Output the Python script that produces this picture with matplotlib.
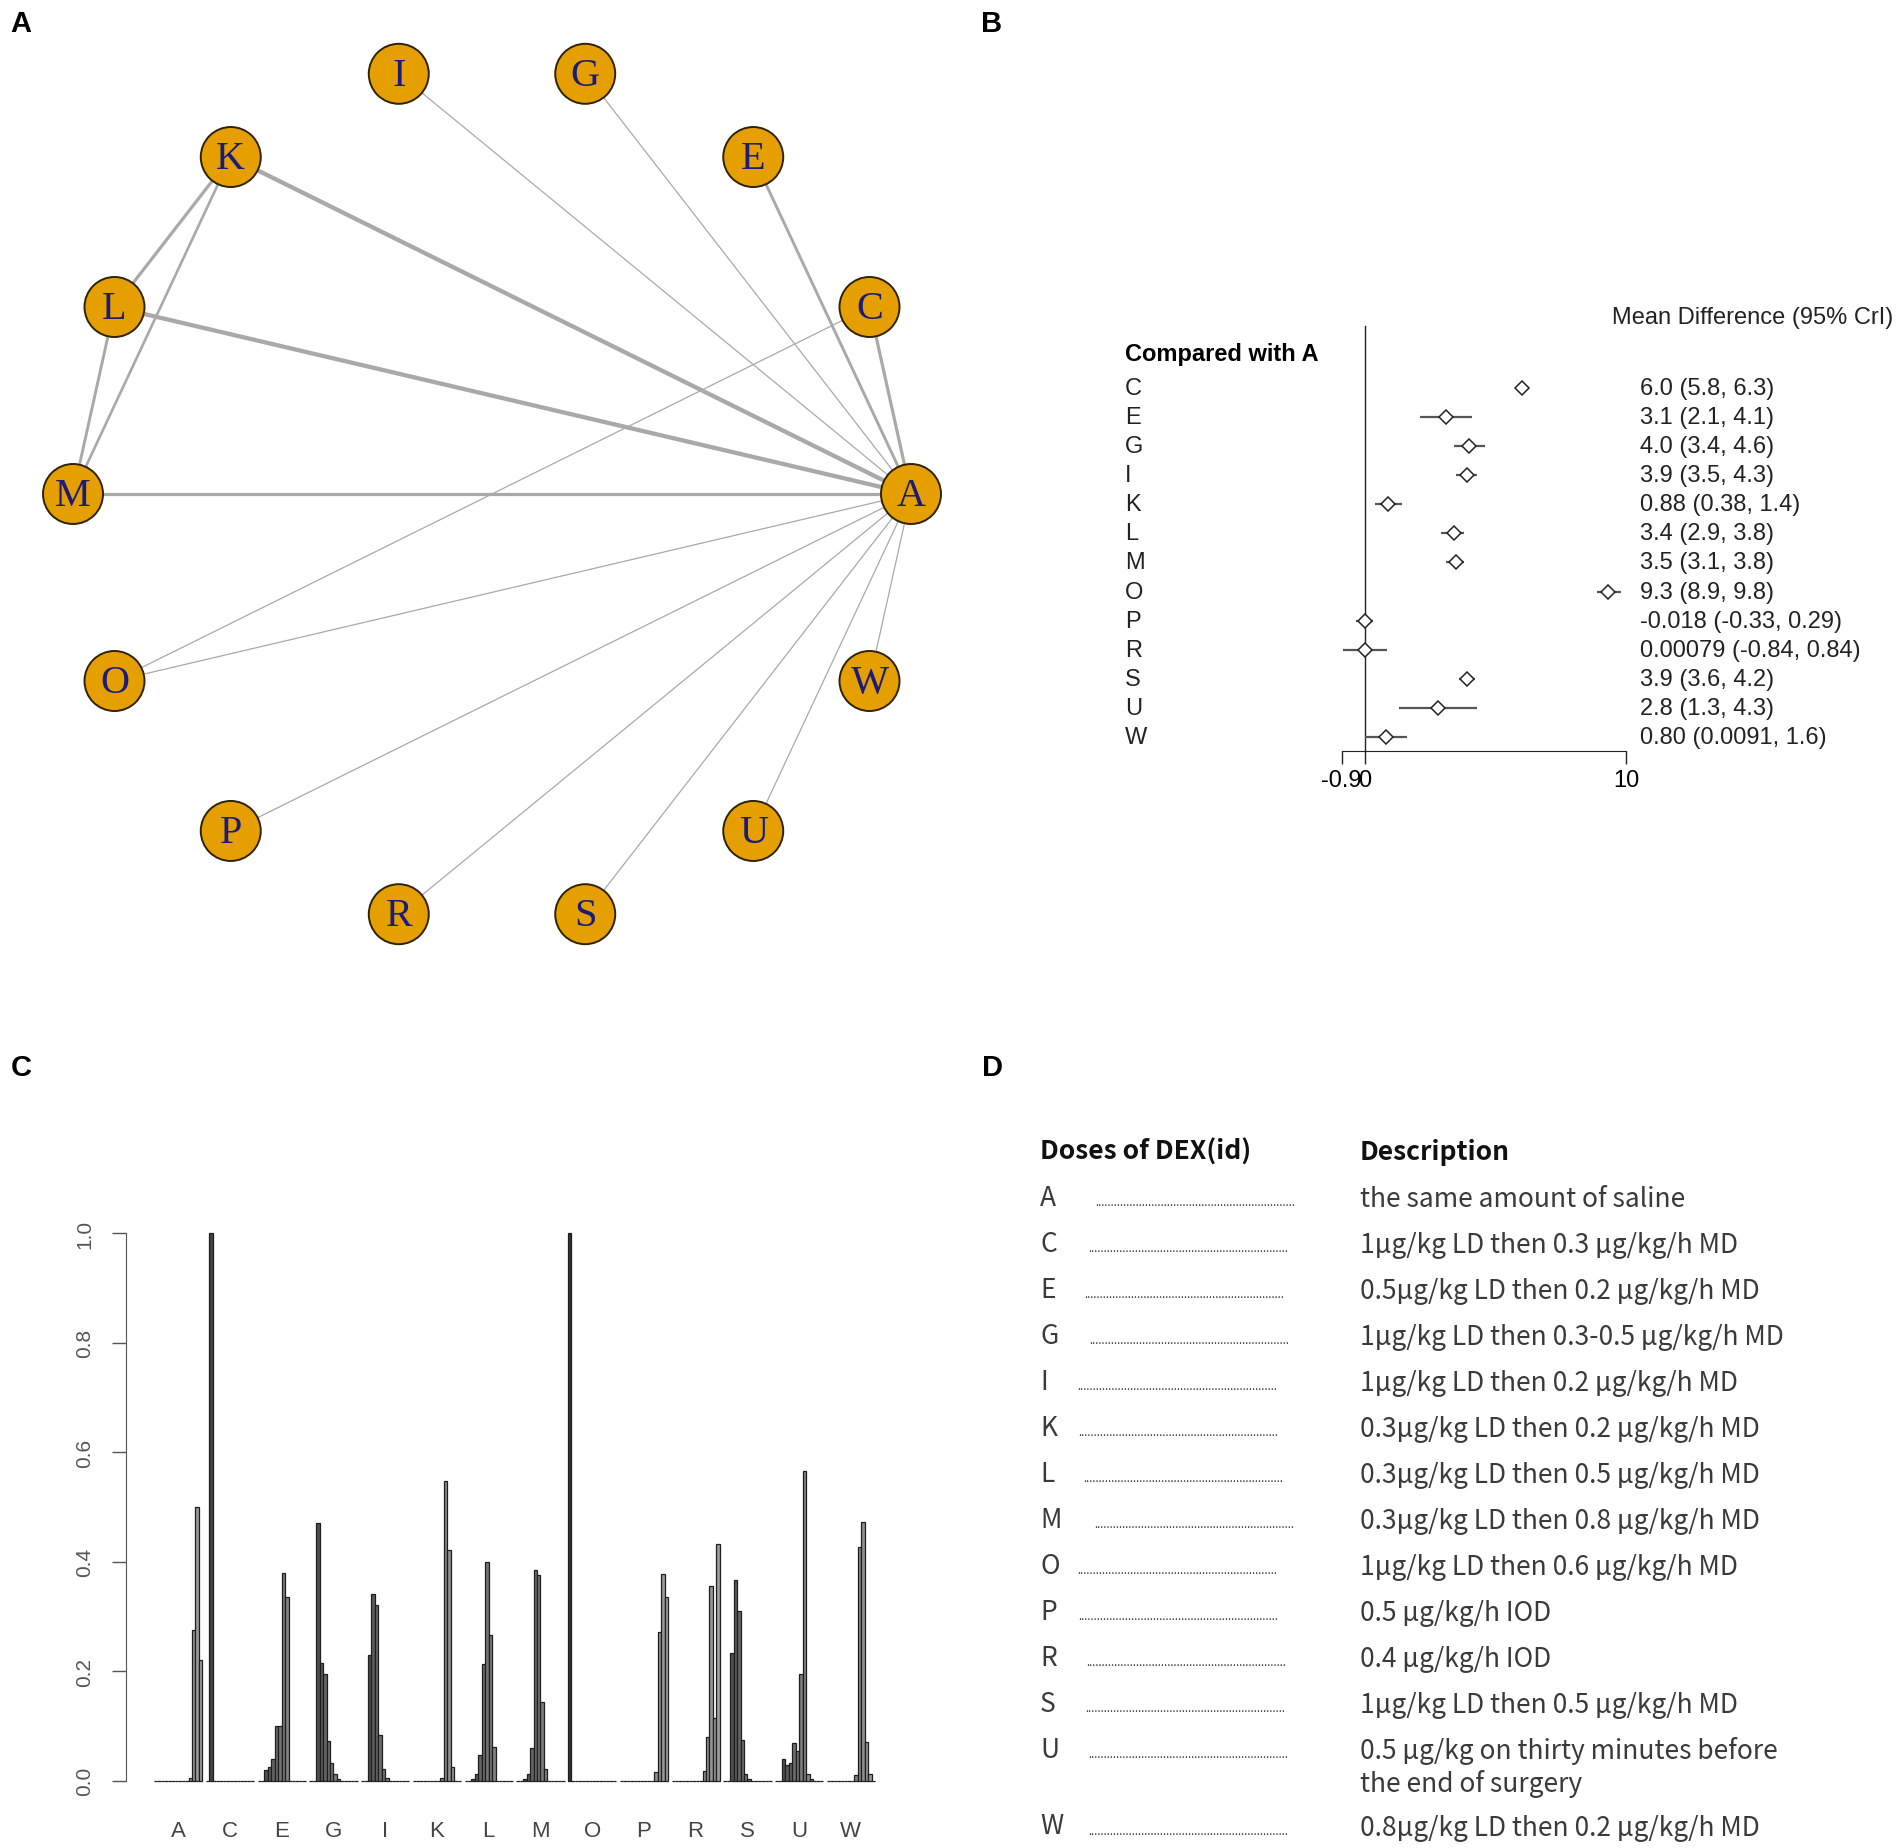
import numpy as np
import matplotlib
matplotlib.use('Agg')
import matplotlib.pyplot as plt
from matplotlib.patches import Ellipse

W_PX, H_PX = 1901, 1849

# ---- panel A: network ----
nodes = ['A', 'C', 'E', 'G', 'I', 'K', 'L', 'M', 'O', 'P', 'R', 'S', 'U', 'W']
edges = [('A', 'C'), ('A', 'E'), ('A', 'G'), ('A', 'I'), ('A', 'K'), ('A', 'L'),
         ('A', 'M'), ('A', 'O'), ('A', 'P'), ('A', 'R'), ('A', 'S'), ('A', 'U'),
         ('A', 'W'), ('C', 'O'), ('K', 'L'), ('K', 'M'), ('L', 'M')]
edge_weight = [2.3, 2.1, 0.9, 0.9, 3.1, 3.1, 2.3, 0.9, 0.9, 0.9, 0.9, 0.9,
               0.9, 0.9, 2.3, 1.9, 2.1]

# ---- panel B: forest plot ----
treat_b = ['C', 'E', 'G', 'I', 'K', 'L', 'M', 'O', 'P', 'R', 'S', 'U', 'W']
md = [6.0, 3.1, 4.0, 3.9, 0.88, 3.4, 3.5, 9.3, -0.018, 0.00079, 3.9, 2.8, 0.80]
md_lo = [5.8, 2.1, 3.4, 3.5, 0.38, 2.9, 3.1, 8.9, -0.33, -0.84, 3.6, 1.3, 0.0091]
md_hi = [6.3, 4.1, 4.6, 4.3, 1.4, 3.8, 3.8, 9.8, 0.29, 0.84, 4.2, 4.3, 1.6]
md_text = ['6.0 (5.8, 6.3)', '3.1 (2.1, 4.1)', '4.0 (3.4, 4.6)', '3.9 (3.5, 4.3)',
           '0.88 (0.38, 1.4)', '3.4 (2.9, 3.8)', '3.5 (3.1, 3.8)', '9.3 (8.9, 9.8)',
           '-0.018 (-0.33, 0.29)', '0.00079 (-0.84, 0.84)', '3.9 (3.6, 4.2)',
           '2.8 (1.3, 4.3)', '0.80 (0.0091, 1.6)']

# ---- panel C: rank probabilities (rank 1..14 for each treatment) ----
treat_c = ['A', 'C', 'E', 'G', 'I', 'K', 'L', 'M', 'O', 'P', 'R', 'S', 'U', 'W']
rank_prob = [
    [0, 0, 0, 0, 0, 0, 0, 0, 0, 0, .005, .275, .50, .22],            # A
    [0, 1.0, 0, 0, 0, 0, 0, 0, 0, 0, 0, 0, 0, 0],                    # C
    [0, 0, .02, .025, .04, .10, .10, .38, .335, 0, 0, 0, 0, 0],      # E
    [0, 0, .47, .215, .195, .072, .033, .012, .003, 0, 0, 0, 0, 0],  # G
    [0, 0, .23, .34, .32, .083, .022, .005, 0, 0, 0, 0, 0, 0],       # I
    [0, 0, 0, 0, 0, 0, 0, 0, .005, .547, .421, .025, 0, 0],          # K
    [0, 0, .003, .013, .047, .213, .40, .266, .061, 0, 0, 0, 0, 0],  # L
    [0, 0, .003, .012, .06, .385, .375, .144, .021, 0, 0, 0, 0, 0],  # M
    [1.0, 0, 0, 0, 0, 0, 0, 0, 0, 0, 0, 0, 0, 0],                    # O
    [0, 0, 0, 0, 0, 0, 0, 0, 0, 0, .016, .272, .377, .335],          # P
    [0, 0, 0, 0, 0, 0, 0, 0, 0, .018, .08, .356, .114, .432],        # R
    [0, 0, .233, .366, .309, .075, .013, .004, 0, 0, 0, 0, 0, 0],    # S
    [0, 0, .04, .028, .033, .068, .055, .195, .565, .012, .004, 0, 0, 0],  # U
    [0, 0, 0, 0, 0, 0, 0, 0, .01, .426, .472, .07, .012, 0],         # W
]
y_ticks_c = [0.0, 0.2, 0.4, 0.6, 0.8, 1.0]

# ---- panel D: dose table ----
dose_ids = ['A', 'C', 'E', 'G', 'I', 'K', 'L', 'M', 'O', 'P', 'R', 'S', 'U', 'W']
dose_desc = ['the same amount of saline',
             '1\u03bcg/kg LD then 0.3 \u03bcg/kg/h MD',
             '0.5\u03bcg/kg LD then 0.2 \u03bcg/kg/h MD',
             '1\u03bcg/kg LD then 0.3-0.5 \u03bcg/kg/h MD',
             '1\u03bcg/kg LD then 0.2 \u03bcg/kg/h MD',
             '0.3\u03bcg/kg LD then 0.2 \u03bcg/kg/h MD',
             '0.3\u03bcg/kg LD then 0.5 \u03bcg/kg/h MD',
             '0.3\u03bcg/kg LD then 0.8 \u03bcg/kg/h MD',
             '1\u03bcg/kg LD then 0.6 \u03bcg/kg/h MD',
             '0.5 \u03bcg/kg/h IOD',
             '0.4 \u03bcg/kg/h IOD',
             '1\u03bcg/kg LD then 0.5 \u03bcg/kg/h MD',
             '0.5 \u03bcg/kg on thirty minutes before\nthe end of surgery',
             '0.8\u03bcg/kg LD then 0.2 \u03bcg/kg/h MD']
# where each dotted leader starts (pixels)
leader_x = [1095, 1088, 1084, 1089, 1077, 1078, 1083, 1094, 1077, 1078, 1086, 1085, 1088, 1088]


def px_rect(x0, y0, x1, y1):
    return [x0 / W_PX, 1 - y1 / H_PX, (x1 - x0) / W_PX, (y1 - y0) / H_PX]


fig = plt.figure(figsize=(W_PX / 100, H_PX / 100), dpi=100, facecolor='white')

# overlay in pixel coords for panel letters and the table
ov = fig.add_axes([0, 0, 1, 1])
ov.set_xlim(0, W_PX)
ov.set_ylim(H_PX, 0)
ov.axis('off')
for lab, x, y in [('A', 21, 24), ('B', 992, 24), ('C', 21, 1068), ('D', 992, 1068)]:
    ov.text(x, y, lab, fontsize=21, fontweight='bold', family='Liberation Sans',
            ha='center', va='center')

# ---------- panel A ----------
# pixel geometry: the layout is slightly taller than wide
cx, cy, rx, ry = 492, 495, 419, 431
axA = fig.add_axes(px_rect(0, 30, 985, 960))
axA.set_xlim(-cx / rx, (985 - cx) / rx)
axA.set_ylim(-(960 - cy) / ry, (cy - 30) / ry)
axA.axis('off')
theta = 2 * np.pi * np.arange(len(nodes)) / len(nodes)
pos = {n: (np.cos(t), np.sin(t)) for n, t in zip(nodes, theta)}
for (a, b), w in zip(edges, edge_weight):
    axA.plot([pos[a][0], pos[b][0]], [pos[a][1], pos[b][1]], color='#a9a9a9',
             lw=w, zorder=1, solid_capstyle='butt')
node_r = 30
for n in nodes:
    axA.add_patch(Ellipse(pos[n], 2 * node_r / rx, 2 * node_r / ry, facecolor='#E69F00',
                          edgecolor='#2e2200', lw=1.4, zorder=3))
    axA.text(pos[n][0], pos[n][1] - 1.5 / ry, n, ha='center', va='center', fontsize=29,
             family='Liberation Serif', color='#1c1c78', zorder=4)

# ---------- panel B ----------
x0px, ppu = 1365, 26.1
y0px, ppr = 389, 29.08


def rrow(p):
    return (p - y0px) / ppr


narrow = ['Liberation Sans Narrow', 'Liberation Sans']
axB = fig.add_axes(px_rect(1100, 300, 1901, 800))
axB.set_xlim((1100 - x0px) / ppu, (1901 - x0px) / ppu)
axB.set_ylim(rrow(800), rrow(300))
rows = np.arange(len(treat_b))
axB.hlines(rows, md_lo, md_hi, color='#555555', lw=1.6, zorder=2)
axB.plot(md, rows, ls='none', marker='D', ms=7, mfc='white', mec='#222222',
         mew=1.1, zorder=3)
axB.plot([0, 0], [rrow(327), rrow(752)], color='#222222', lw=1.0, zorder=1)
for spine in ['top', 'right', 'left']:
    axB.spines[spine].set_visible(False)
axB.spines['bottom'].set_position(('data', rrow(752)))
axB.spines['bottom'].set_bounds(-0.9, 10)
axB.spines['bottom'].set_color('#222222')
axB.set_yticks([])
axB.set_xticks([-0.9, 0, 10])
axB.set_xticklabels(['-0.9', '0', '10'], family=narrow, fontsize=17)
axB.tick_params(axis='x', length=9, width=1.0, color='#222222', pad=4)
axB.patch.set_alpha(0)
lab_x = (1125 - x0px) / ppu
val_x = (1640 - x0px) / ppu
axB.text(lab_x, rrow(354), 'Compared with A', family=narrow, fontweight='bold',
         fontsize=17, ha='left', va='center')
axB.text((1612 - x0px) / ppu, rrow(318), 'Mean Difference (95% CrI)', family=narrow,
         fontsize=17, ha='left', va='center', color='#222222')
for r, (t, s) in enumerate(zip(treat_b, md_text)):
    axB.text(lab_x, r, t, family=narrow, fontsize=17, ha='left', va='center',
             color='#222222')
    axB.text(val_x, r, s, family=narrow, fontsize=17, ha='left', va='center',
             color='#222222')

# ---------- panel C ----------
ux0, upx = 154, 3.45
vz, vpx = 1781.7, 547.7
axC = fig.add_axes(px_rect(126, 1225, 880, 1790))
axC.set_xlim(1 + (126 - ux0) / upx, 1 + (880 - ux0) / upx)
axC.set_ylim((vz - 1790) / vpx, (vz - 1225) / vpx)
nr = len(rank_prob[0])
lv = np.linspace(0.2 ** 2.2, 0.62 ** 2.2, nr) ** (1 / 2.2)
bar_cols = [(v, v, v) for v in lv]
for g, probs in enumerate(rank_prob):
    left = g * (nr + 1) + 1 + np.arange(nr)
    axC.bar(left, probs, width=1, align='edge', color=bar_cols,
            edgecolor='#1e1e1e', lw=0.9, clip_on=False)
centers = np.arange(len(treat_c)) * (nr + 1) + 1 + nr / 2
axC.set_xticks(centers)
axC.set_xticklabels(treat_c, fontsize=16, family='Liberation Sans', color='#444444')
axC.tick_params(axis='x', length=0, pad=22)
axC.set_yticks(y_ticks_c)
axC.set_yticklabels(['%.1f' % v for v in y_ticks_c], fontsize=15,
                    family='Liberation Sans', color='#555555', rotation=90, va='center')
axC.tick_params(axis='y', length=10, width=1.0, color='#555555', pad=13)
for spine in ['top', 'right', 'bottom']:
    axC.spines[spine].set_visible(False)
axC.spines['left'].set_bounds(0, 1)
axC.spines['left'].set_color('#555555')
axC.patch.set_alpha(0)

# ---------- panel D ----------
cjk = ['Noto Sans CJK SC', 'DejaVu Sans']
ov.text(1040, 1152, 'Doses of DEX(id)', family=cjk, fontweight='bold', fontsize=19,
        ha='left', va='center', color='#111111')
ov.text(1360, 1152, 'Description', family=cjk, fontweight='bold', fontsize=19,
        ha='left', va='center', color='#111111')
extra = 0
for i, (d, desc, lx) in enumerate(zip(dose_ids, dose_desc, leader_x)):
    yc = 1198 + 46 * i + extra
    ov.text(1040, yc, d, family=cjk, fontsize=19, fontweight='light', ha='left',
            va='center', color='#3a3a3a')
    ov.text(lx, yc + 8, '.' * 64, family=cjk, fontsize=8, ha='left', va='baseline',
            color='#333333')
    for j, line in enumerate(desc.split('\n')):
        ov.text(1360, yc + 9 + 33 * j, line, family=cjk, fontsize=19, fontweight='light',
                ha='left', va='baseline', color='#3a3a3a')
    extra += 31 * desc.count('\n')

fig.savefig('out.png', dpi=100, facecolor='white')
